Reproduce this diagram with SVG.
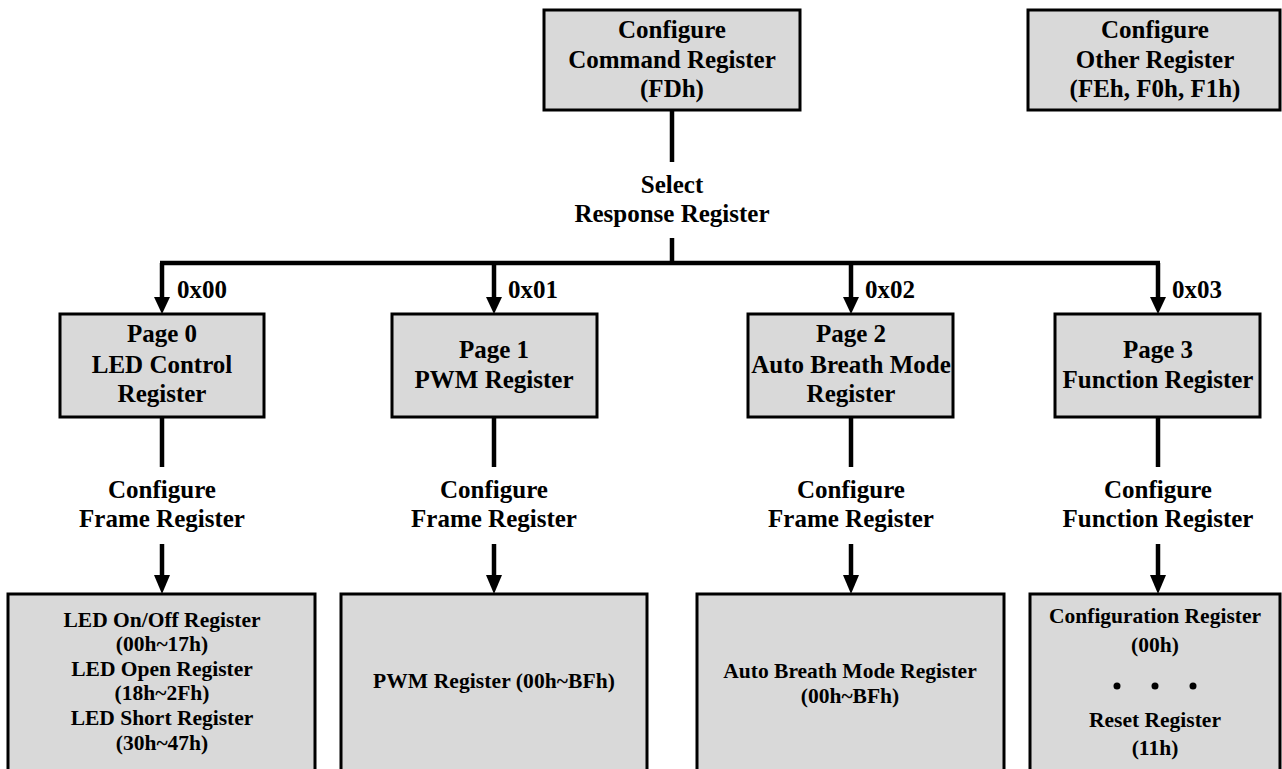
<svg xmlns="http://www.w3.org/2000/svg" width="1282" height="769" viewBox="0 0 1282 769">
<style>
.box{fill:#d9d9d9;stroke:#000;stroke-width:3}
.t{font-family:"Liberation Serif","Times New Roman",serif;font-weight:bold;fill:#000;text-anchor:middle}
.l{font-size:25px}
.s{font-size:21.5px}
.ln{stroke:#000;stroke-width:4.5;fill:none}
.ah{fill:#000}
.lbl{font-family:"Liberation Serif","Times New Roman",serif;font-weight:bold;font-size:25px;fill:#000}
</style>
<rect width="1282" height="769" fill="#fff"/>
<g id="connectors">
<line class="ln" x1="672" y1="110" x2="672" y2="162"/>
<line class="ln" x1="672" y1="238" x2="672" y2="263"/>
<line class="ln" x1="160" y1="263" x2="1160" y2="263"/>
<line class="ln" x1="162" y1="263" x2="162" y2="299"/>
<line class="ln" x1="494" y1="263" x2="494" y2="299"/>
<line class="ln" x1="851" y1="263" x2="851" y2="299"/>
<line class="ln" x1="1158" y1="263" x2="1158" y2="299"/>
<polygon class="ah" points="154,297 170,297 162,314"/>
<polygon class="ah" points="486,297 502,297 494,314"/>
<polygon class="ah" points="843,297 859,297 851,314"/>
<polygon class="ah" points="1150,297 1166,297 1158,314"/>
<line class="ln" x1="162" y1="417" x2="162" y2="467"/>
<line class="ln" x1="494" y1="417" x2="494" y2="467"/>
<line class="ln" x1="851" y1="417" x2="851" y2="467"/>
<line class="ln" x1="1158" y1="417" x2="1158" y2="467"/>
<line class="ln" x1="162" y1="544" x2="162" y2="577"/>
<line class="ln" x1="494" y1="544" x2="494" y2="577"/>
<line class="ln" x1="851" y1="544" x2="851" y2="577"/>
<line class="ln" x1="1158" y1="544" x2="1158" y2="577"/>
<polygon class="ah" points="154,575 170,575 162,594"/>
<polygon class="ah" points="486,575 502,575 494,594"/>
<polygon class="ah" points="843,575 859,575 851,594"/>
<polygon class="ah" points="1150,575 1166,575 1158,594"/>
<text class="lbl" x="177" y="298">0x00</text>
<text class="lbl" x="508" y="298">0x01</text>
<text class="lbl" x="865" y="298">0x02</text>
<text class="lbl" x="1172" y="298">0x03</text>
<text class="t l" x="672" y="193">Select</text>
<text class="t l" x="672" y="222">Response Register</text>
<text class="t l" x="162" y="498">Configure</text>
<text class="t l" x="162" y="527">Frame Register</text>
<text class="t l" x="494" y="498">Configure</text>
<text class="t l" x="494" y="527">Frame Register</text>
<text class="t l" x="851" y="498">Configure</text>
<text class="t l" x="851" y="527">Frame Register</text>
<text class="t l" x="1158" y="498">Configure</text>
<text class="t l" x="1158" y="527">Function Register</text>
</g>
<g id="cmd">
<rect class="box" x="544" y="10" width="256" height="100"/>
<text class="t l" x="672" y="38">Configure</text>
<text class="t l" x="672" y="68">Command Register</text>
<text class="t l" x="672" y="97">(FDh)</text>
</g>
<g id="other">
<rect class="box" x="1028" y="10" width="252" height="100"/>
<text class="t l" x="1155" y="38">Configure</text>
<text class="t l" x="1155" y="68">Other Register</text>
<text class="t l" x="1155" y="97">(FEh, F0h, F1h)</text>
</g>
<g id="page0">
<rect class="box" x="60" y="314" width="204" height="103"/>
<text class="t l" x="162" y="342">Page 0</text>
<text class="t l" x="162" y="373">LED Control</text>
<text class="t l" x="162" y="402">Register</text>
</g>
<g id="page1">
<rect class="box" x="392" y="314" width="205" height="103"/>
<text class="t l" x="494" y="358">Page 1</text>
<text class="t l" x="494" y="388">PWM Register</text>
</g>
<g id="page2">
<rect class="box" x="748" y="314" width="205" height="103"/>
<text class="t l" x="851" y="342">Page 2</text>
<text class="t l" x="851" y="373">Auto Breath Mode</text>
<text class="t l" x="851" y="402">Register</text>
</g>
<g id="page3">
<rect class="box" x="1055" y="314" width="205" height="103"/>
<text class="t l" x="1158" y="358">Page 3</text>
<text class="t l" x="1158" y="388">Function Register</text>
</g>
<g id="led">
<rect class="box" x="8" y="594" width="307" height="190"/>
<text class="t s" x="162" y="627">LED On/Off Register</text>
<text class="t s" x="162" y="651">(00h~17h)</text>
<text class="t s" x="162" y="676">LED Open Register</text>
<text class="t s" x="162" y="700">(18h~2Fh)</text>
<text class="t s" x="162" y="725">LED Short Register</text>
<text class="t s" x="162" y="750">(30h~47h)</text>
</g>
<g id="pwm">
<rect class="box" x="341" y="594" width="306" height="190"/>
<text class="t s" x="494" y="688" textLength="242" lengthAdjust="spacing">PWM Register (00h~BFh)</text>
</g>
<g id="abm">
<rect class="box" x="697" y="594" width="307" height="190"/>
<text class="t s" x="850" y="678">Auto Breath Mode Register</text>
<text class="t s" x="850" y="703">(00h~BFh)</text>
</g>
<g id="func">
<rect class="box" x="1030" y="594" width="250" height="190"/>
<text class="t s" x="1155" y="623">Configuration Register</text>
<text class="t s" x="1155" y="652">(00h)</text>
<circle cx="1117" cy="686" r="3.5"/>
<circle cx="1155" cy="686" r="3.5"/>
<circle cx="1193" cy="686" r="3.5"/>
<text class="t s" x="1155" y="727">Reset Register</text>
<text class="t s" x="1155" y="755">(11h)</text>
</g>
</svg>
